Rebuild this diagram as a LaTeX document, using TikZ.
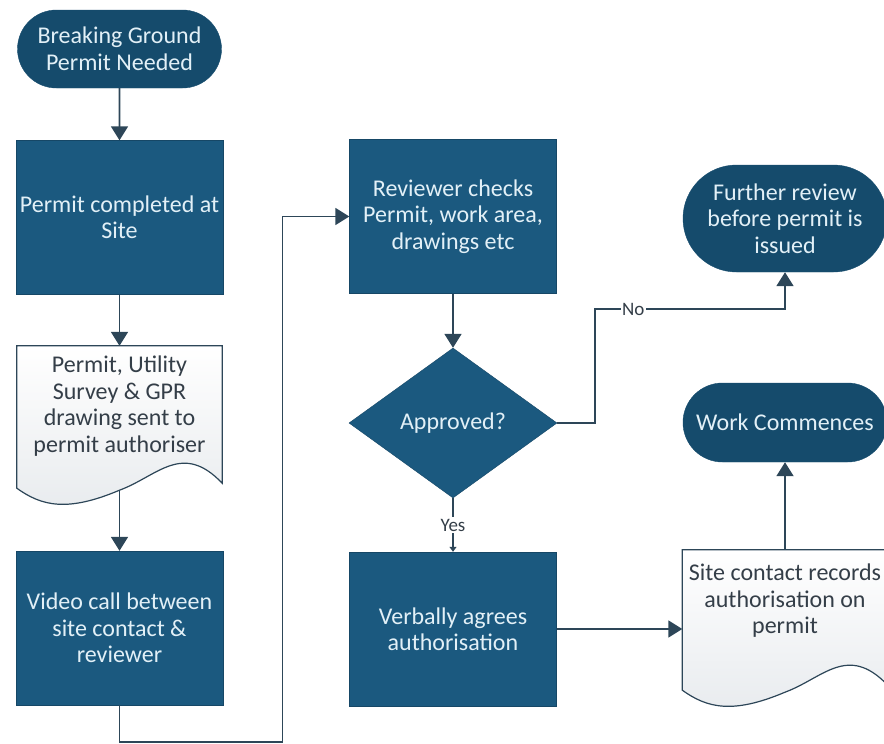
\documentclass[tikz,border=0pt]{standalone}
\usepackage{fontspec}
\setmainfont{Carlito}
\usetikzlibrary{shapes.geometric,shapes.misc,arrows.meta,backgrounds}

\definecolor{termblue}{RGB}{21,75,108}
\definecolor{boxblue}{RGB}{27,89,127}
\definecolor{boxtext}{RGB}{226,240,247}
\definecolor{doctext}{RGB}{52,62,72}
\definecolor{docshade}{RGB}{232,235,238}
\definecolor{linegray}{RGB}{45,70,88}

\tikzset{
  every node/.style={font=\fontsize{24pt}{26.5pt}\selectfont, align=center},
  terminal/.style={rounded rectangle, fill=termblue, draw=termblue, text=boxtext,
    minimum width=204pt, inner sep=0pt},
  process/.style={rectangle, fill=boxblue, draw=boxblue!80!black, text=boxtext,
    minimum width=207pt, minimum height=154pt, inner sep=0pt},
  decision/.style={diamond, fill=boxblue, draw=boxblue!80!black, text=boxtext,
    minimum width=208pt, minimum height=150pt, inner sep=0pt},
  docbox/.style={rectangle, minimum width=205pt, minimum height=120pt, inner sep=0pt,
    text=doctext},
  docline/.style={draw=linegray, line width=1.2pt, top color=white, bottom color=docshade},
  flow/.style={draw=linegray, line width=1.8pt, -{Triangle[width=17pt,length=14pt]}},
  branchtext/.style={fill=white, text=doctext, inner sep=1.5pt,
    font=\fontsize{19pt}{21pt}\selectfont}
}

% document symbol with a wavy bottom, #2 names the middle of the wave,
% #3 lowers the wave below the node
\newcommand{\docoutline}[3]{%
  \begin{scope}[on background layer]
  \draw[docline] (#1.north west) -- (#1.north east) -- ([yshift={-17pt-#3pt}]#1.south east)
    .. controls +(-40,-42) and +(38,-14) .. ([yshift={-24pt-#3pt}]#1.south) coordinate (#2)
    .. controls +(-52,22) and +(25,18) .. ([yshift={-22pt-#3pt}]#1.south west) -- cycle;
  \end{scope}}

\begin{document}
\begin{tikzpicture}[x=1pt,y=-1pt]
  \useasboundingbox (0,0) rectangle (884,744);

  % left column
  \node[terminal, minimum height=78pt] (start) at (119.5,49) {Breaking Ground\\Permit Needed};
  \node[process] (complete) at (119.5,217.5) {Permit completed at\\Site};
  \node[docbox] (sent) at (119.5,406) {Permit, Utility\\Survey \& GPR\\drawing sent to\\permit authoriser};
  \docoutline{sent}{sentwave}{0}
  \node[process] (video) at (119.5,628) {Video call between\\site contact \&\\reviewer};

  % middle column
  \node[process] (reviewer) at (453,216.5) {Reviewer checks\\Permit, work area,\\drawings etc};
  \node[decision] (approved) at (453,423) {Approved?};
  \node[process] (verbally) at (453,629) {Verbally agrees\\authorisation};

  % right column
  \node[terminal, minimum height=107pt] (further) at (785,218.5) {Further review\\before permit is\\issued};
  \node[terminal, minimum height=79pt] (work) at (785,422.5) {Work Commences};
  \node[docbox, minimum height=102pt] (records) at (785,601) {Site contact records\\authorisation on\\permit};
  \docoutline{records}{recordswave}{16}

  % connectors
  \draw[flow] (start) -- (complete);
  \draw[flow] (complete) -- (sent);
  \draw[flow] (sentwave) -- (video);
  \draw[flow] (video.south) |- ++(163,37) |- (reviewer.west);
  \draw[flow] (reviewer) -- (approved);
  \draw[flow] (approved.east) -- ++(38,0) -- ++(0,-114)
    -| node[branchtext, pos=0.1] {No} (further.south);
  \draw[flow, -{Triangle[width=7pt,length=5pt]}] (approved) -- node[branchtext] {Yes} (verbally);
  \draw[flow] (verbally.east) -- (verbally.east -| records.west);
  \draw[flow] (records) -- (work);
\end{tikzpicture}
\end{document}
